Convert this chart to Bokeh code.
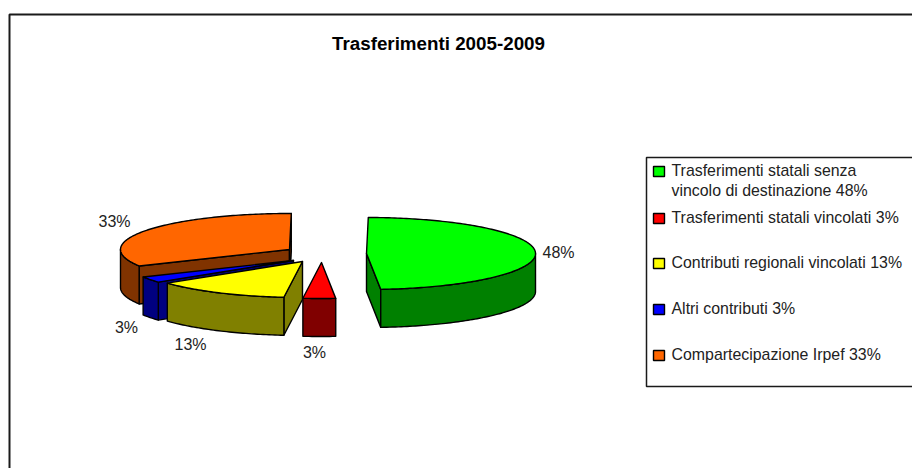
import math
from bokeh.plotting import figure
from bokeh.core.properties import value
from bokeh.embed import file_html
from bokeh.resources import INLINE

title = "Trasferimenti 2005-2009"
categories = [
    "Trasferimenti statali senza\nvincolo di destinazione",
    "Trasferimenti statali vincolati",
    "Contributi regionali vincolati",
    "Altri contributi",
    "Compartecipazione Irpef",
]
shares = [48.49, 3.1, 13.0, 2.7, 32.71]
top_colors = ["#00FF00", "#FF0000", "#FFFF00", "#0000FF", "#FF6600"]
side_colors = ["#008000", "#800000", "#808000", "#000080", "#803300"]

# layout (page pixels)
FONT = value("Liberation Sans")
apex = [(366, 253), (321, 262), (302, 261), (293, 260), (289, 249)]
label_pos = [(558, 252), (314, 352), (190, 344), (126, 327), (114, 221)]
legend_rows = [171, 218, 263, 309, 355]
A, B, DEPTH, START = 169, 36, 38, 0.6

p = figure(width=912, height=468, x_range=(0, 912), y_range=(468, 0),
           output_backend="svg", toolbar_location=None, min_border=0,
           x_axis_location=None, y_axis_location=None)
p.grid.visible = False
p.outline_line_color = None
p.background_fill_color = "white"

# outer frame
p.line([9, 9, 912], [468, 14, 14], line_color="#1a1a1a", line_width=2)


def rim(cx, cy, a0, a1, dy=0):
    n = max(4, int(abs(a1 - a0)))
    angles = [a0 + (a1 - a0) * i / n for i in range(n + 1)]
    return [(cx + A * math.sin(math.radians(t)), cy - B * math.cos(math.radians(t)) + dy) for t in angles]


def poly(points, color):
    p.patch([q[0] for q in points], [q[1] for q in points], fill_color=color,
             line_color="black", line_width=1.4, line_join="round")


total = sum(shares)
bounds = [START]
for s in shares:
    bounds.append(bounds[-1] + s / total * 360)

# painter's order: back slices first
for i in [4, 3, 2, 1, 0]:
    cx, cy = apex[i]
    a0, a1 = bounds[i], bounds[i + 1]
    for theta, normal in ((a0, a0 - 90), (a1, a1 + 90)):
        if math.cos(math.radians(normal)) < 0:
            e = rim(cx, cy, theta, theta)[0]
            poly([(cx, cy), e, (e[0], e[1] + DEPTH), (cx, cy + DEPTH)], side_colors[i])
    lo, hi = max(a0, 90), min(a1, 270)
    if hi > lo:
        poly(rim(cx, cy, lo, hi) + rim(cx, cy, lo, hi, DEPTH)[::-1], side_colors[i])
    poly([(cx, cy)] + rim(cx, cy, a0, a1), top_colors[i])

# data labels
p.text([q[0] for q in label_pos], [q[1] for q in label_pos],
       text=[f"{round(s)}%" for s in shares], text_font=FONT, text_font_size="16px",
       text_color="#222222", text_align="center", text_baseline="middle")

p.text([438], [43], text=[title], text_font=FONT, text_font_size="18.8px",
       text_font_style="bold", text_color="black", text_align="center", text_baseline="middle")

# legend
p.line([912, 646, 646, 912], [157, 157, 386, 386], line_color="#1a1a1a", line_width=1.5)
p.quad(left=[653] * 5, right=[664] * 5,
       top=[y - 5 for y in legend_rows], bottom=[y + 5 for y in legend_rows],
       fill_color=top_colors, line_color="black", line_width=1.4)
legend_text = [f"{c} {round(s)}%" for c, s in zip(categories, shares)]
for i, (t, y) in enumerate(zip(legend_text, legend_rows)):
    lines = t.split("\n")
    for j, line in enumerate(lines):
        p.text([671], [y + j * 20 - 1], text=[line], text_font=FONT, text_font_size="15.9px",
               text_color="#222222", text_align="left", text_baseline="middle")

open("out.html", "w").write(file_html(p, INLINE))
